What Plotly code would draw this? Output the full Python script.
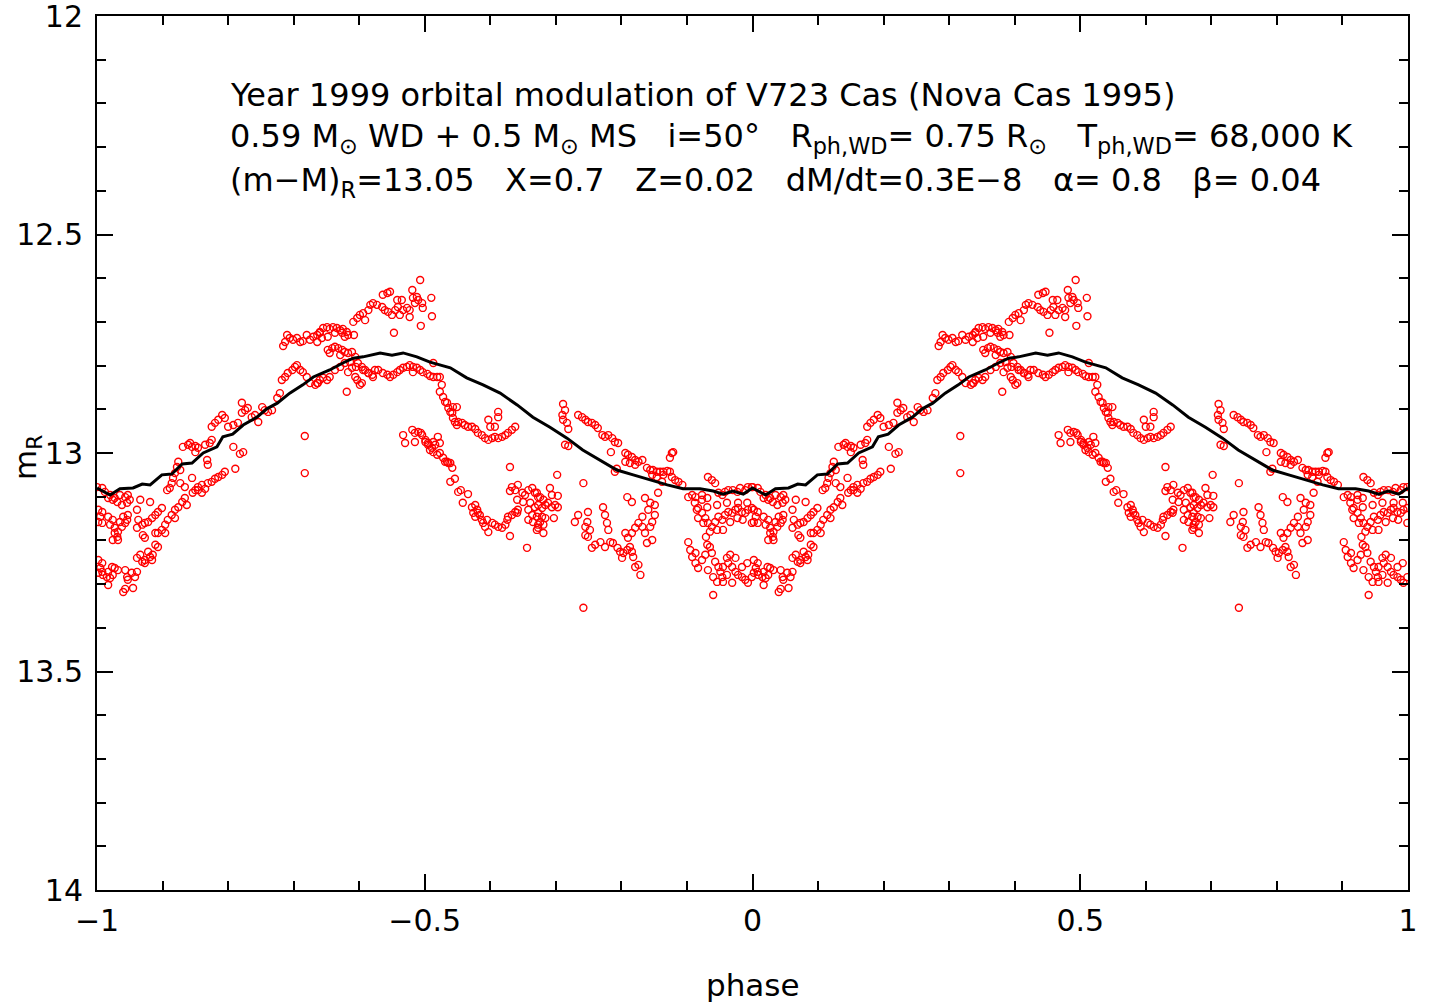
import plotly.graph_objects as go

# model light curve over one orbital cycle
MODEL_PHASE = [0.000, 0.020, 0.035, 0.055, 0.069, 0.081, 0.099, 0.114, 0.130, 0.145,
               0.162, 0.183, 0.192, 0.207, 0.223, 0.244, 0.259, 0.275, 0.294, 0.314,
               0.330, 0.355, 0.375, 0.391, 0.406, 0.432, 0.450, 0.467, 0.488, 0.508,
               0.539, 0.564, 0.589, 0.615, 0.641, 0.665, 0.691, 0.717, 0.741, 0.767,
               0.793, 0.818, 0.844, 0.870, 0.894, 0.920, 0.940, 0.955, 0.970, 0.986, 1.000]
MODEL_MR = [13.080, 13.096, 13.082, 13.080, 13.071, 13.073, 13.050, 13.048, 13.025, 13.023,
            13.000, 12.986, 12.963, 12.957, 12.936, 12.918, 12.899, 12.886, 12.863, 12.844,
            12.826, 12.810, 12.794, 12.783, 12.780, 12.771, 12.776, 12.771, 12.780, 12.792,
            12.805, 12.828, 12.844, 12.863, 12.890, 12.918, 12.941, 12.966, 12.993, 13.016,
            13.039, 13.050, 13.062, 13.073, 13.082, 13.082, 13.087, 13.094, 13.087, 13.094, 13.080]

# observed 1999 R magnitudes, folded on phase 0..1, grouped by cluster
OBS_PH_1 = [0.000, 0.008, 0.012, 0.020, 0.027, 0.035, 0.043, 0.047, 0.050, 0.046, 0.038, 0.031,
            0.024, 0.017, 0.066, 0.081]
OBS_MR_1 = [13.078, 13.080, 13.089, 13.096, 13.103, 13.096, 13.101, 13.096, 13.107, 13.114,
            13.119, 13.112, 13.107, 13.103, 13.107, 13.112]

OBS_PH_2 = [0.002, 0.008, 0.005, 0.002, 0.008, 0.017, 0.020, 0.024, 0.027, 0.032, 0.031, 0.024,
            0.032, 0.038, 0.043, 0.046, 0.047, 0.040, 0.035, 0.027]
OBS_MR_2 = [13.130, 13.135, 13.146, 13.158, 13.160, 13.146, 13.164, 13.153, 13.171, 13.180,
            13.192, 13.199, 13.199, 13.169, 13.160, 13.153, 13.142, 13.146, 13.158, 13.183]

OBS_PH_3 = [0.002, 0.008, 0.005, 0.002, 0.009, 0.017, 0.023, 0.027, 0.032, 0.015, 0.024, 0.008,
            0.020, 0.017, 0.043, 0.046, 0.047, 0.053, 0.058, 0.061, 0.040, 0.043, 0.055]
OBS_MR_3 = [13.245, 13.252, 13.263, 13.274, 13.279, 13.272, 13.261, 13.263, 13.268, 13.284,
            13.279, 13.272, 13.286, 13.302, 13.268, 13.284, 13.290, 13.274, 13.284, 13.272,
            13.318, 13.311, 13.309]

OBS_PH_4 = [0.061, 0.066, 0.069, 0.073, 0.078, 0.081, 0.085, 0.089, 0.093, 0.073, 0.084, 0.099,
            0.104, 0.108, 0.114, 0.119, 0.124, 0.130, 0.134, 0.137, 0.119, 0.104, 0.146, 0.150,
            0.154, 0.160, 0.165, 0.169, 0.175, 0.180, 0.185, 0.191, 0.195, 0.211, 0.154, 0.160]
OBS_MR_4 = [13.240, 13.233, 13.249, 13.252, 13.226, 13.238, 13.233, 13.210, 13.215, 13.245,
            13.245, 13.176, 13.164, 13.153, 13.142, 13.130, 13.124, 13.112, 13.103, 13.119,
            13.149, 13.183, 13.091, 13.085, 13.078, 13.073, 13.082, 13.069, 13.066, 13.059,
            13.055, 13.050, 13.043, 13.036, 13.085, 13.091]

OBS_PH_5 = [0.061, 0.063, 0.069, 0.073, 0.078, 0.084, 0.089, 0.093, 0.099, 0.061, 0.070, 0.073,
            0.089, 0.093, 0.107, 0.111, 0.114, 0.116, 0.119, 0.127, 0.122, 0.124, 0.127, 0.134,
            0.145, 0.131, 0.139, 0.145, 0.150, 0.154, 0.150, 0.165, 0.172, 0.168, 0.169, 0.142,
            0.175, 0.208, 0.218, 0.223]
OBS_MR_5 = [13.130, 13.153, 13.164, 13.160, 13.158, 13.149, 13.142, 13.135, 13.126, 13.171,
            13.188, 13.194, 13.183, 13.183, 13.085, 13.080, 13.069, 13.057, 13.046, 13.039,
            13.032, 13.020, 13.069, 13.078, 13.057, 12.986, 12.981, 12.986, 12.984, 12.988,
            12.998, 12.981, 12.977, 13.016, 13.027, 12.977, 12.970, 12.986, 13.002, 12.998]

OBS_PH_6 = [0.175, 0.180, 0.185, 0.191, 0.195, 0.200, 0.208, 0.215, 0.221, 0.221, 0.226, 0.230,
            0.236, 0.241, 0.246, 0.252, 0.256, 0.261, 0.267, 0.275, 0.279, 0.317, 0.317,
            0.282, 0.287, 0.291, 0.298, 0.302, 0.305, 0.310, 0.314, 0.320, 0.325, 0.333, 0.337,
            0.336, 0.340, 0.345, 0.351, 0.355, 0.363, 0.371, 0.378, 0.386, 0.383, 0.381, 0.394,
            0.397, 0.401, 0.389, 0.395, 0.404, 0.406, 0.414, 0.421]
OBS_MR_6 = [12.940, 12.931, 12.924, 12.913, 12.920, 12.940, 12.936, 12.931, 12.908, 12.885,
            12.902, 12.897, 12.918, 12.913, 12.929, 12.895, 12.902, 12.906, 12.902, 12.874,
            12.863, 12.961, 13.046,
            12.833, 12.826, 12.817, 12.810, 12.803, 12.799, 12.810, 12.815, 12.826, 12.840,
            12.844, 12.840, 12.840, 12.833, 12.828, 12.833, 12.826, 12.810, 12.803, 12.794,
            12.792, 12.815, 12.860, 12.826, 12.833, 12.844, 12.805, 12.803, 12.840, 12.810,
            12.817, 12.826]

OBS_PH_7 = [0.352, 0.359, 0.363, 0.368, 0.374, 0.378, 0.383, 0.389, 0.394, 0.355, 0.371, 0.398,
            0.404, 0.409, 0.414, 0.420, 0.424, 0.429, 0.436, 0.443, 0.447, 0.452, 0.458, 0.462,
            0.467, 0.473, 0.477, 0.482, 0.488, 0.493, 0.497, 0.504, 0.508, 0.513, 0.519, 0.523,
            0.482, 0.513]
OBS_MR_7 = [12.764, 12.760, 12.757, 12.760, 12.764, 12.769, 12.771, 12.769, 12.780, 12.771,
            12.776, 12.794, 12.803, 12.810, 12.817, 12.821, 12.810, 12.810, 12.817, 12.821,
            12.826, 12.821, 12.815, 12.810, 12.805, 12.803, 12.799, 12.803, 12.805, 12.810,
            12.815, 12.819, 12.824, 12.826, 12.826, 12.826, 12.815, 12.794]

OBS_PH_8 = [0.284, 0.287, 0.290, 0.294, 0.299, 0.305, 0.310, 0.314, 0.320, 0.325, 0.330, 0.336,
            0.340, 0.336, 0.340, 0.345, 0.351, 0.355, 0.360, 0.366, 0.371, 0.375, 0.381, 0.383,
            0.378, 0.374, 0.363, 0.352, 0.343, 0.392]
OBS_MR_8 = [12.755, 12.746, 12.730, 12.737, 12.741, 12.737, 12.746, 12.744, 12.730, 12.741,
            12.734, 12.746, 12.725, 12.730, 12.723, 12.714, 12.712, 12.716, 12.712, 12.714,
            12.719, 12.716, 12.723, 12.730, 12.734, 12.725, 12.725, 12.734, 12.737, 12.730]

OBS_PH_9 = [0.391, 0.397, 0.401, 0.406, 0.409, 0.414, 0.417, 0.421, 0.427, 0.435, 0.436, 0.443,
            0.447, 0.439, 0.444, 0.450, 0.455, 0.458, 0.459, 0.462, 0.465, 0.467, 0.473, 0.477,
            0.477, 0.481, 0.482, 0.485, 0.488, 0.490, 0.493, 0.496, 0.497, 0.510, 0.511, 0.494,
            0.453]
OBS_MR_9 = [12.700, 12.691, 12.684, 12.680, 12.696, 12.673, 12.661, 12.657, 12.661, 12.666,
            12.638, 12.634, 12.631, 12.673, 12.677, 12.684, 12.673, 12.650, 12.666, 12.684,
            12.650, 12.673, 12.668, 12.673, 12.689, 12.627, 12.645, 12.657, 12.643, 12.650,
            12.604, 12.657, 12.668, 12.645, 12.687, 12.709, 12.725]

OBS_PH_10 = [0.526, 0.523, 0.528, 0.531, 0.534, 0.536, 0.539, 0.543, 0.549, 0.542, 0.543, 0.546,
             0.549, 0.551, 0.557, 0.561, 0.566, 0.572, 0.577, 0.581, 0.587, 0.592, 0.597, 0.603,
             0.607, 0.612, 0.618, 0.623, 0.627, 0.633, 0.638, 0.597, 0.600, 0.607, 0.612, 0.612]
OBS_MR_10 = [12.844, 12.860, 12.872, 12.883, 12.885, 12.897, 12.906, 12.895, 12.895, 12.908,
             12.920, 12.929, 12.936, 12.929, 12.931, 12.936, 12.940, 12.940, 12.945, 12.954,
             12.959, 12.966, 12.970, 12.966, 12.963, 12.966, 12.963, 12.959, 12.954, 12.947,
             12.940, 12.924, 12.940, 12.940, 12.906, 12.918]

OBS_PH_11 = [0.467, 0.470, 0.481, 0.485, 0.490, 0.496, 0.501, 0.505, 0.511, 0.513, 0.519, 0.523,
             0.528, 0.534, 0.539, 0.542, 0.539, 0.546, 0.551, 0.555, 0.566, 0.558, 0.485, 0.501,
             0.505, 0.508, 0.516, 0.523, 0.531, 0.536, 0.494, 0.513, 0.520]
OBS_MR_11 = [12.959, 12.977, 12.947, 12.954, 12.952, 12.959, 12.970, 12.977, 12.988, 12.998,
             13.004, 13.000, 13.011, 13.020, 13.023, 13.034, 13.066, 13.059, 13.089, 13.085,
             13.094, 13.114, 12.975, 12.975, 12.981, 12.993, 12.981, 12.977, 13.020, 13.023,
             12.954, 12.975, 12.963]

OBS_PH_12 = [0.572, 0.577, 0.580, 0.581, 0.584, 0.574, 0.577, 0.587, 0.589, 0.592, 0.597, 0.595,
             0.603, 0.607, 0.612, 0.618, 0.623, 0.626, 0.627, 0.633, 0.638, 0.641, 0.642, 0.630,
             0.630, 0.656]
OBS_MR_12 = [13.124, 13.119, 13.130, 13.137, 13.142, 13.137, 13.146, 13.153, 13.160, 13.169,
             13.181, 13.153, 13.160, 13.164, 13.169, 13.171, 13.164, 13.153, 13.146, 13.142,
             13.135, 13.137, 13.130, 13.032, 13.190, 13.217]

OBS_PH_13 = [0.633, 0.638, 0.642, 0.649, 0.653, 0.658, 0.664, 0.668, 0.673, 0.641, 0.650, 0.661,
             0.668, 0.658, 0.664, 0.671, 0.658, 0.665, 0.673, 0.671, 0.630, 0.671, 0.676, 0.681,
             0.673, 0.679, 0.684, 0.688, 0.694, 0.699, 0.703, 0.673, 0.679, 0.684, 0.676, 0.681,
             0.673, 0.681, 0.691, 0.694, 0.703, 0.697, 0.702]
OBS_MR_13 = [13.078, 13.085, 13.073, 13.091, 13.096, 13.085, 13.080, 13.091, 13.101, 13.107,
             13.112, 13.114, 13.124, 13.130, 13.142, 13.146, 13.153, 13.158, 13.164, 13.176,
             13.087, 13.091, 13.101, 13.107, 13.119, 13.126, 13.119, 13.114, 13.124, 13.119,
             13.124, 13.137, 13.146, 13.149, 13.158, 13.164, 13.171, 13.183, 13.080, 13.096,
             13.098, 13.149, 13.050]

OBS_PH_14 = [0.711, 0.714, 0.710, 0.711, 0.717, 0.714, 0.719, 0.734, 0.740, 0.745, 0.749, 0.755,
             0.760, 0.764, 0.771, 0.775, 0.780, 0.786, 0.790, 0.795, 0.719, 0.784]
OBS_MR_14 = [12.888, 12.902, 12.913, 12.924, 12.931, 12.981, 12.984, 12.913, 12.918, 12.924,
             12.929, 12.931, 12.936, 12.943, 12.959, 12.963, 12.959, 12.966, 12.975, 12.977,
             12.945, 12.998]

OBS_PH_15 = [0.806, 0.810, 0.816, 0.821, 0.826, 0.832, 0.806, 0.813, 0.821, 0.790, 0.793, 0.839,
             0.844, 0.848, 0.854, 0.859, 0.864, 0.870, 0.874, 0.877, 0.882, 0.887, 0.893, 0.847,
             0.854, 0.864, 0.874, 0.877, 0.879, 0.862, 0.856]
OBS_MR_15 = [13.000, 13.004, 13.009, 13.016, 13.020, 13.016, 13.020, 13.023, 13.027, 13.043,
             13.036, 13.034, 13.039, 13.039, 13.043, 13.043, 13.043, 13.041, 13.043, 13.055,
             13.062, 13.066, 13.073, 13.050, 13.055, 13.050, 13.011, 13.000, 12.998, 13.066,
             13.091]

OBS_PH_16 = [0.902, 0.908, 0.913, 0.923, 0.931, 0.932, 0.938, 0.943, 0.948, 0.954, 0.958, 0.963,
             0.970, 0.977, 0.981, 0.989, 0.993, 0.999]
OBS_MR_16 = [13.101, 13.096, 13.101, 13.096, 13.103, 13.055, 13.062, 13.069, 13.091, 13.096,
             13.089, 13.085, 13.085, 13.089, 13.080, 13.085, 13.078, 13.078]

OBS_PH_17 = [0.912, 0.917, 0.923, 0.928, 0.932, 0.938, 0.943, 0.948, 0.954, 0.958, 0.963, 0.969,
             0.974, 0.978, 0.984, 0.989, 0.993, 0.999, 0.925, 0.917, 0.915, 0.931, 0.946, 0.961,
             0.978, 0.992, 0.923, 0.929, 0.985, 0.977, 0.966, 0.955, 0.946, 0.935, 0.999]
OBS_MR_17 = [13.114, 13.126, 13.137, 13.149, 13.160, 13.169, 13.158, 13.146, 13.153, 13.142,
             13.135, 13.137, 13.130, 13.126, 13.135, 13.137, 13.130, 13.126, 13.160, 13.149,
             13.130, 13.124, 13.119, 13.114, 13.114, 13.114, 13.107, 13.192, 13.153, 13.149,
             13.158, 13.176, 13.176, 13.180, 13.160]

OBS_PH_18 = [0.902, 0.905, 0.908, 0.913, 0.917, 0.923, 0.928, 0.931, 0.935, 0.938, 0.943, 0.948,
             0.951, 0.954, 0.955, 0.946, 0.940, 0.961, 0.966, 0.963, 0.969, 0.974, 0.978, 0.984,
             0.989, 0.993, 0.999, 0.992, 0.984, 0.974, 0.955, 0.961, 0.969, 0.932, 0.913, 0.940]
OBS_MR_18 = [13.204, 13.222, 13.238, 13.252, 13.263, 13.245, 13.233, 13.210, 13.215, 13.229,
             13.249, 13.261, 13.272, 13.284, 13.295, 13.295, 13.284, 13.240, 13.233, 13.252,
             13.261, 13.272, 13.279, 13.284, 13.290, 13.297, 13.284, 13.252, 13.261, 13.240,
             13.261, 13.279, 13.297, 13.268, 13.229, 13.325]

OBS_PH_19 = [0.729, 0.734, 0.742, 0.745, 0.748, 0.749, 0.752, 0.749, 0.745, 0.755, 0.760, 0.768,
             0.775, 0.772, 0.775, 0.778, 0.780, 0.783, 0.787, 0.794, 0.798, 0.801, 0.803, 0.809,
             0.813, 0.816, 0.818, 0.821, 0.826, 0.829, 0.806, 0.810, 0.816, 0.821, 0.826, 0.832,
             0.836, 0.844, 0.847, 0.851, 0.841, 0.832, 0.836, 0.844, 0.851, 0.809, 0.816, 0.847,
             0.839, 0.742]
OBS_MR_19 = [13.158, 13.142, 13.069, 13.169, 13.158, 13.135, 13.176, 13.192, 13.188, 13.217,
             13.210, 13.204, 13.215, 13.124, 13.142, 13.160, 13.176, 13.204, 13.206, 13.217,
             13.226, 13.240, 13.229, 13.222, 13.215, 13.226, 13.238, 13.261, 13.256, 13.279,
             13.183, 13.194, 13.183, 13.171, 13.160, 13.169, 13.183, 13.169, 13.158, 13.142,
             13.130, 13.146, 13.103, 13.114, 13.119, 13.101, 13.112, 13.199, 13.206, 13.354]

OBS_PH = (OBS_PH_1 + OBS_PH_2 + OBS_PH_3 + OBS_PH_4 + OBS_PH_5 + OBS_PH_6 + OBS_PH_7
          + OBS_PH_8 + OBS_PH_9 + OBS_PH_10 + OBS_PH_11 + OBS_PH_12 + OBS_PH_13 + OBS_PH_14
          + OBS_PH_15 + OBS_PH_16 + OBS_PH_17 + OBS_PH_18 + OBS_PH_19)
OBS_MR = (OBS_MR_1 + OBS_MR_2 + OBS_MR_3 + OBS_MR_4 + OBS_MR_5 + OBS_MR_6 + OBS_MR_7
          + OBS_MR_8 + OBS_MR_9 + OBS_MR_10 + OBS_MR_11 + OBS_MR_12 + OBS_MR_13 + OBS_MR_14
          + OBS_MR_15 + OBS_MR_16 + OBS_MR_17 + OBS_MR_18 + OBS_MR_19)

FONT = "DejaVu Sans"
SP = "\u00a0" * 3

# two cycles: phase-1 and phase
obs_x = [p - 1 for p in OBS_PH] + list(OBS_PH)
obs_y = list(OBS_MR) + list(OBS_MR)
mod_x = [p - 1 for p in MODEL_PHASE] + list(MODEL_PHASE[1:])
mod_y = list(MODEL_MR) + list(MODEL_MR[1:])

fig = go.Figure()
fig.add_trace(go.Scatter(
    x=obs_x, y=obs_y, mode="markers",
    marker=dict(symbol="circle-open", size=7, color="#ff0000", line=dict(width=1.4, color="#ff0000")),
    showlegend=False,
))
fig.add_trace(go.Scatter(
    x=mod_x, y=mod_y, mode="lines",
    line=dict(color="black", width=3),
    showlegend=False,
))

axis_common = dict(
    showline=True, linecolor="black", linewidth=2, mirror="allticks",
    ticks="inside", ticklen=16, tickwidth=2, tickcolor="black",
    showgrid=False, zeroline=False, automargin=False, ticklabeloverflow="allow",
    tickfont=dict(family=FONT, size=30, color="black"),
    minor=dict(ticks="inside", ticklen=9, tickwidth=2, tickcolor="black", dtick=0.1, showgrid=False),
)
fig.update_xaxes(range=[-1, 1], tick0=-1, dtick=0.5, ticklabelstandoff=3, **axis_common)
fig.update_yaxes(range=[14, 12], tick0=12, dtick=0.5, ticklabelstandoff=6, **axis_common)

title_lines = [
    "Year 1999 orbital modulation of V723 Cas (Nova Cas 1995)",
    "0.59 M<sub>⊙</sub> WD + 0.5 M<sub>⊙</sub> MS" + SP + "i=50°" + SP
    + "R<sub>ph,WD</sub>= 0.75 R<sub>⊙</sub>" + SP + "T<sub>ph,WD</sub>= 68,000 K",
    "(m−M)<sub>R</sub>=13.05" + SP + "X=0.7" + SP + "Z=0.02" + SP
    + "dM/dt=0.3E−8" + SP + "α= 0.8" + SP + "β= 0.04",
]
for line, yp in zip(title_lines, [0.9096, 0.8604, 0.8101]):
    fig.add_annotation(
        text=line, xref="paper", yref="paper", x=0.0999, y=yp,
        xanchor="left", yanchor="middle", showarrow=False,
        font=dict(family=FONT, size=32, color="black"),
    )

fig.add_annotation(
    text="phase", xref="paper", yref="paper", x=0.5, y=-0.1087,
    xanchor="center", yanchor="middle", showarrow=False,
    font=dict(family=FONT, size=31, color="black"),
)
fig.add_annotation(
    text="m<sub>R</sub>", xref="paper", yref="paper", x=-0.0534, y=0.4954,
    xanchor="center", yanchor="middle", showarrow=False, textangle=-90,
    font=dict(family=FONT, size=31, color="black"),
)

fig.update_layout(
    width=1429, height=1006,
    margin=dict(l=97, r=21, t=16, b=116),
    paper_bgcolor="white", plot_bgcolor="white",
)

# drop the default page margin so the figure sits at the window's corner
fig.write_html(
    "out.html",
    config={"displayModeBar": False},
    post_script="document.body.style.margin='0';",
)
